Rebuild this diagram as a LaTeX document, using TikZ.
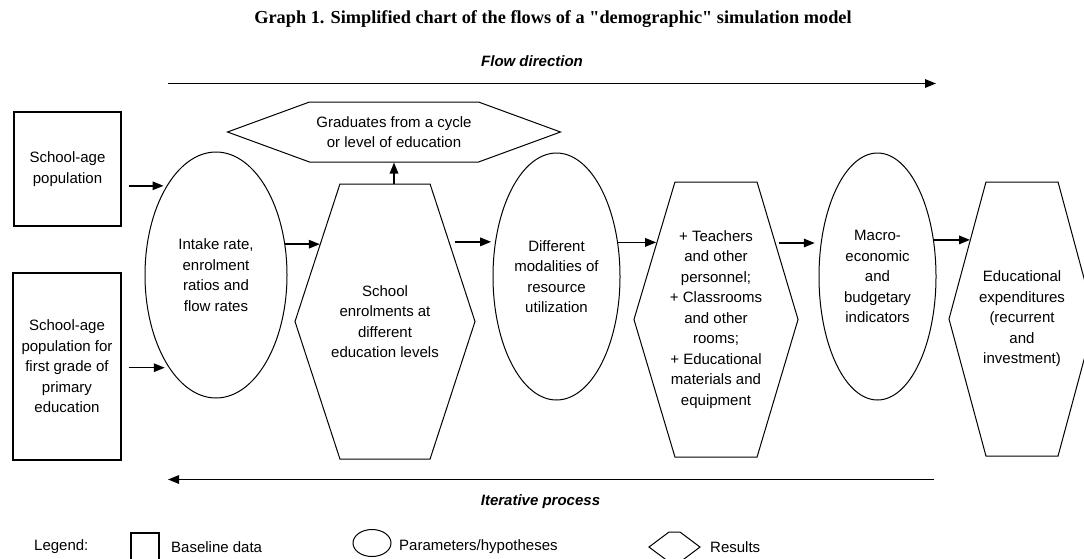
\documentclass[tikz,border=0pt]{standalone}
\usepackage{fontspec}
\setmainfont{Liberation Sans}
\newfontfamily\titlefont{Liberation Serif}
\usetikzlibrary{arrows.meta,shapes.geometric,shapes.symbols}
\tikzset{
  boxtext/.style={draw, line width=1pt, inner sep=0pt, align=center, font=\fontsize{15}{20.5}\selectfont},
  databox/.style={boxtext, rectangle, line width=1.3pt},
  paramshape/.style={boxtext, ellipse},
  resultshape/.style={boxtext, signal, signal to=west and east},
  flowarrow/.style={line width=1.5pt, -{Triangle[length=11pt,width=8.5pt]}},
  plaintext/.style={inner sep=0pt, font=\fontsize{15}{18}\selectfont},
  flowtext/.style={inner sep=0pt, font=\bfseries\itshape\fontsize{15}{18}\selectfont}
}
\begin{document}
\begin{tikzpicture}[x=1pt,y=-1pt]
  \useasboundingbox (0,0) rectangle (1084,558);
  \clip (0,0) rectangle (1084,558);
  \node[font=\titlefont\bfseries\fontsize{18.3}{20}\selectfont] (title) at (553,19)
    {Graph 1. Simplified chart of the flows of a "demographic" simulation model};
  \node[flowtext] (flowlabel) at (532,61) {Flow direction};
  \coordinate (flowstart) at (168,83.5);
  \coordinate (flowend) at (936,83.5);
  \draw[flowarrow] (flowstart) -- (flowend);

  \node[databox, minimum width=107, minimum height=114] (pop) at (67.5,169) {School-age\\population};
  \node[databox, minimum width=108, minimum height=187] (popfirst) at (67,366.5)
    {School-age\\population for\\first grade of\\primary\\education};
  \node[paramshape, minimum width=142, minimum height=246] (intake) at (216,275)
    {Intake rate,\\enrolment\\ratios and\\flow rates};
  \node[resultshape, minimum width=180, minimum height=275, inner xsep=-10pt, signal pointer angle=143.8] (enrol) at (385,321.5)
    {School\\enrolments at\\different\\education levels};
  \node[resultshape, minimum width=333, minimum height=60, signal pointer angle=40.2] (grad) at (394,132)
    {Graduates from a cycle\\or level of education};
  \node[paramshape, minimum width=127, minimum height=247] (modal) at (556.5,276.5)
    {Different\\modalities of\\resource\\utilization};
  \node[resultshape, minimum width=164, minimum height=275, inner xsep=-5pt, signal pointer angle=146.8] (staff) at (716,319.5)
    {+ Teachers\\and other\\personnel;\\+ Classrooms\\and other\\rooms;\\+ Educational\\materials and\\equipment};
  \node[paramshape, minimum width=117, minimum height=247] (macro) at (877.5,276.5)
    {Macro-\\economic\\and\\budgetary\\indicators};
  \node[resultshape, minimum width=146, minimum height=274, inner xsep=-8pt, signal pointer angle=149.8] (expend) at (1022,319)
    {Educational\\expenditures\\(recurrent\\and\\investment)};

  \draw[flowarrow, shorten <=7pt, shorten >=3pt] (pop.east |- intake.119) -- (intake.119);
  \draw[flowarrow, shorten <=7pt, shorten >=4pt] (popfirst.east |- intake.243) -- (intake.243);
  \draw[flowarrow] (intake.24) -- (intake.24 -| enrol.130);
  \draw[flowarrow, shorten <=5pt, shorten >=4pt] (enrol.51) -- (enrol.51 -| modal.150);
  \draw[flowarrow] (modal.29) -- (modal.29 -| staff.128);
  \draw[flowarrow, shorten <=3pt, shorten >=6pt] (staff.52) -- (staff.52 -| macro.149);
  \draw[flowarrow] (macro.33) -- (macro.33 -| expend.123);
  \draw[flowarrow] (grad.south |- enrol.north) -- (grad.south);

  \coordinate (iterstart) at (934,479.5);
  \coordinate (iterend) at (168,479.5);
  \draw[flowarrow] (iterstart) -- (iterend);
  \node[flowtext] (iterlabel) at (540.5,502) {Iterative process};

  \node[plaintext, anchor=west] (legend) at (34,547) {Legend:};
  \node[databox, minimum width=28, minimum height=30] (legrect) at (145,548) {};
  \node[plaintext, anchor=west] (legdata) at (171,547) {Baseline data};
  \node[paramshape, minimum width=38, minimum height=27] (legellipse) at (372,543) {};
  \node[plaintext, anchor=west] (legparam) at (399,547) {Parameters/hypotheses};
  \node[resultshape, minimum width=51, minimum height=30, signal pointer angle=73.7] (leghex) at (674.5,547) {};
  \node[plaintext, anchor=west] (legresult) at (710,547) {Results};
\end{tikzpicture}
\end{document}
